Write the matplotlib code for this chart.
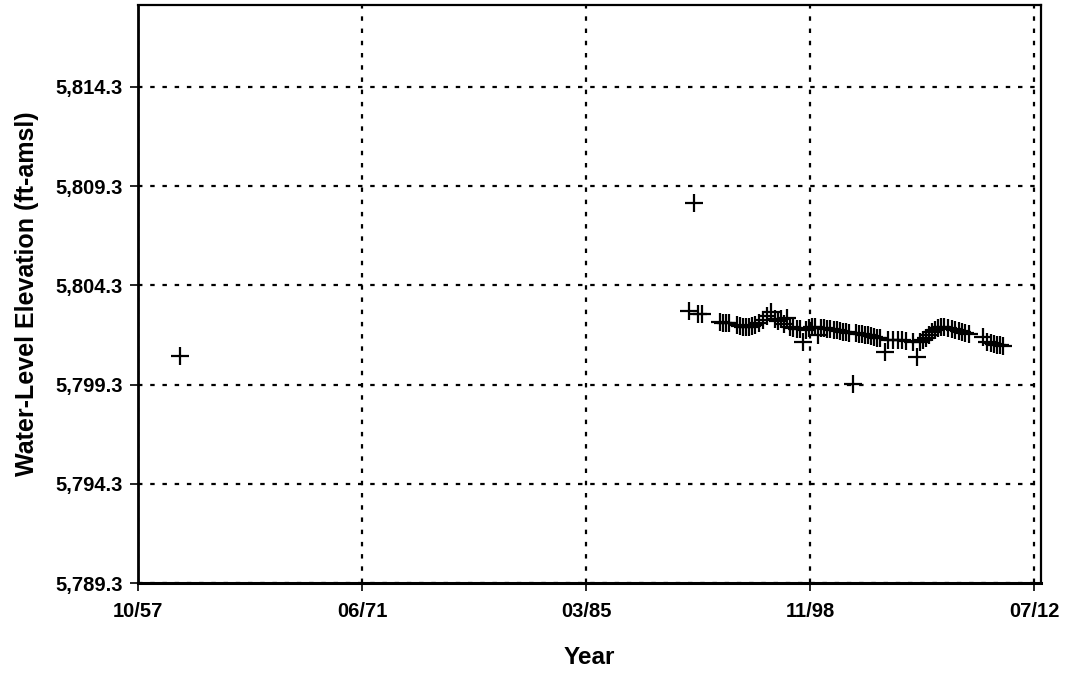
import matplotlib
matplotlib.use("Agg")
import matplotlib.pyplot as plt
import matplotlib.dates as mdates
import pandas as pd
import numpy as np

# ---- data (decimal year, water-level elevation ft-amsl) ----
years = [
    1960.36, 1991.77,
    1991.46, 1992.01, 1992.26, 1993.36, 1993.54, 1993.72, 1993.90, 1994.39,
    1994.58, 1994.76, 1994.95, 1995.13, 1995.31, 1995.50, 1995.74, 1995.99,
    1996.23, 1996.48, 1996.72, 1996.90, 1997.08, 1997.27, 1997.45, 1997.64,
    1997.82, 1998.06, 1998.24, 1998.43, 1998.61, 1998.79, 1998.98, 1999.16,
    1999.34, 1999.53, 1999.71, 1999.89, 2000.08, 2000.32, 2000.51, 2000.69,
    2000.87, 2001.06, 2001.24, 2001.49, 2001.67, 2001.85, 2002.03, 2002.22,
    2002.40, 2002.58, 2002.77, 2002.95, 2003.13, 2003.44, 2003.62, 2003.93,
    2004.23, 2004.47, 2004.72, 2005.15, 2005.39, 2005.58, 2005.76, 2005.94,
    2006.13, 2006.31, 2006.49, 2006.68, 2006.86, 2007.05, 2007.29, 2007.53,
    2007.72, 2007.96, 2008.14, 2008.33, 2008.57, 2009.43, 2009.67, 2009.92,
    2010.10, 2010.29, 2010.47, 2010.65,
]
elev = [
    5800.74, 5808.45,
    5803.01, 5802.86, 5802.86, 5802.45, 5802.40, 5802.40, 5802.40, 5802.30,
    5802.25, 5802.20, 5802.20, 5802.20, 5802.25, 5802.30, 5802.40, 5802.56,
    5802.76, 5802.96, 5802.61, 5802.50, 5802.61, 5802.35, 5802.66, 5802.20,
    5802.15, 5802.10, 5802.10, 5801.45, 5802.05, 5802.15, 5802.20, 5802.20,
    5801.80, 5802.15, 5802.15, 5802.10, 5802.10, 5802.05, 5802.05, 5802.00,
    5801.95, 5801.95, 5801.90, 5799.33, 5801.90, 5801.85, 5801.85, 5801.80,
    5801.80, 5801.75, 5801.70, 5801.65, 5801.65, 5800.94, 5801.55, 5801.55,
    5801.55, 5801.55, 5801.50, 5801.45, 5800.69, 5801.45, 5801.55, 5801.65,
    5801.80, 5801.95, 5802.05, 5802.15, 5802.20, 5802.20, 5802.15, 5802.10,
    5802.05, 5802.00, 5801.95, 5801.90, 5801.85, 5801.70, 5801.45, 5801.40,
    5801.35, 5801.30, 5801.30, 5801.25,
]
y_ticks = [5789.3, 5794.3, 5799.3, 5804.3, 5809.3, 5814.3]
x_start = "1957-10-15"
x_tick_step_days = 5000
n_x_ticks = 5


def decyear_to_date(y):
    yi = int(np.floor(y))
    return pd.Timestamp(year=yi, month=1, day=1) + pd.Timedelta(days=(y - yi) * 365.25)


dates = [decyear_to_date(y) for y in years]

plt.rcParams['font.family'] = ['Liberation Sans', 'DejaVu Sans']
plt.rcParams['font.weight'] = 'bold'

fig = plt.figure(figsize=(10.67, 6.74), dpi=100)
ax = fig.add_axes([0.1293, 0.135, 0.8463, 0.8576])

ax.plot(dates, elev, linestyle='none', marker='+', color='black',
        markersize=12.5, markeredgewidth=1.6, zorder=3)

x0 = pd.Timestamp(x_start)
xticks = [x0 + pd.Timedelta(days=k * x_tick_step_days) for k in range(n_x_ticks)]
ax.set_xlim(x0, x0 + pd.Timedelta(days=20150))
ax.set_xticks(xticks)
ax.xaxis.set_major_formatter(mdates.DateFormatter('%m/%y'))

ax.set_ylim(5789.3, 5818.43)
ax.set_yticks(y_ticks)
ax.set_yticklabels([f"{v:,.1f}" for v in y_ticks])

ax.grid(True, color='black', linestyle=(0, (2, 3.5)), linewidth=1.6)
for s in ax.spines.values():
    s.set_linewidth(1.6)
    s.set_color('black')
ax.spines['left'].set_linewidth(2.0)
ax.spines['bottom'].set_linewidth(2.2)

ax.tick_params(axis='both', direction='out', length=6, width=1.2)
ax.tick_params(axis='x', pad=8, labelsize=14.5)
ax.tick_params(axis='y', pad=5, labelsize=14.5)
for lab in ax.get_xticklabels() + ax.get_yticklabels():
    lab.set_fontweight('bold')

ax.set_xlabel('Year', fontsize=17.5, fontweight='bold', labelpad=18)
ax.set_ylabel('Water-Level Elevation (ft-amsl)', fontsize=18, fontweight='bold', labelpad=12)

fig.savefig('out.png', dpi=100)
